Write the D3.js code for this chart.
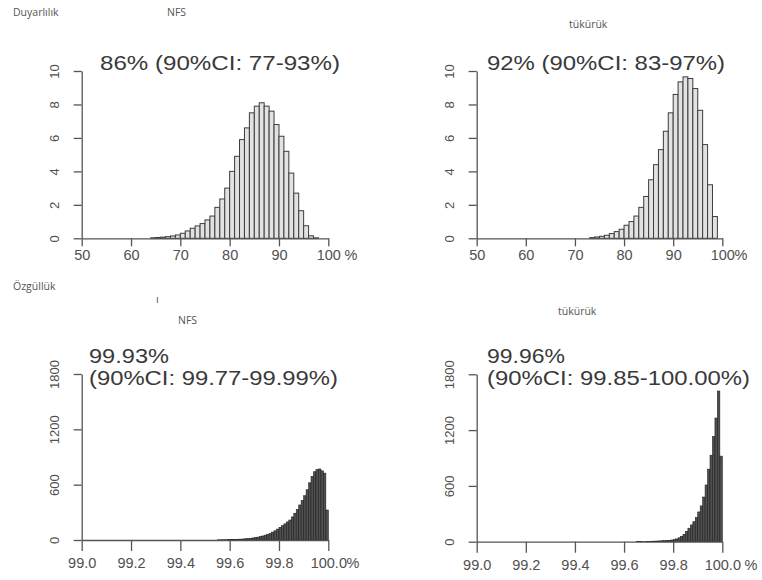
<!DOCTYPE html>
<html>
<head>
<meta charset="utf-8">
<script src="https://cdn.jsdelivr.net/npm/d3@7"></script>
<style>
  body { margin: 0; background: #fff; }
  svg { display: block; }
</style>
</head>
<body>
<svg id="chart" width="762" height="580"></svg>
<script>
// sensitivity histograms (density, bin width 1 percentage point)
var nfsSensEdges = [64, 65, 66, 67, 68, 69, 70, 71, 72, 73, 74, 75, 76, 77, 78, 79, 80, 81, 82, 83, 84, 85, 86, 87, 88, 89, 90, 91, 92, 93, 94, 95, 96, 97];
var nfsSensValues = [0.03, 0.05, 0.07, 0.1, 0.14, 0.2, 0.3, 0.44, 0.6, 0.74, 0.88, 1.1, 1.33, 1.85, 2.35, 3.0, 4.0, 4.9, 5.9, 6.6, 7.5, 7.9, 8.1, 7.9, 7.6, 6.8, 6.1, 5.2, 3.9, 2.7, 1.65, 0.75, 0.15, 0.03];
var salSensEdges = [73, 74, 75, 76, 77, 78, 79, 80, 81, 82, 83, 84, 85, 86, 87, 88, 89, 90, 91, 92, 93, 94, 95, 96, 97, 98];
var salSensValues = [0.04, 0.08, 0.12, 0.18, 0.28, 0.4, 0.54, 0.78, 1.0, 1.33, 1.85, 2.5, 3.5, 4.4, 5.3, 6.4, 7.5, 8.6, 9.35, 9.65, 9.55, 8.95, 7.65, 5.6, 3.2, 1.3];

// specificity histograms (counts, bin width 0.01 percentage point)
var nfsSpecEdges = [99.55, 99.56, 99.57, 99.58, 99.59, 99.60, 99.61, 99.62, 99.63, 99.64, 99.65, 99.66, 99.67, 99.68, 99.69, 99.70, 99.71, 99.72, 99.73, 99.74, 99.75, 99.76, 99.77, 99.78, 99.79, 99.80, 99.81, 99.82, 99.83, 99.84, 99.85, 99.86, 99.87, 99.88, 99.89, 99.90, 99.91, 99.92, 99.93, 99.94, 99.95, 99.96, 99.97, 99.98, 99.99];
var nfsSpecValues = [2, 2, 3, 3, 4, 5, 6, 7, 8, 9, 11, 13, 15, 18, 22, 26, 31, 37, 44, 52, 61, 72, 86, 100, 118, 137, 155, 175, 196, 217, 250, 290, 330, 380, 430, 480, 545, 620, 690, 740, 765, 770, 750, 725, 325];
var salSpecEdges = [99.65, 99.66, 99.67, 99.68, 99.69, 99.70, 99.71, 99.72, 99.73, 99.74, 99.75, 99.76, 99.77, 99.78, 99.79, 99.80, 99.81, 99.82, 99.83, 99.84, 99.85, 99.86, 99.87, 99.88, 99.89, 99.90, 99.91, 99.92, 99.93, 99.94, 99.95, 99.96, 99.97, 99.98, 99.99];
var salSpecValues = [1, 1, 2, 2, 3, 4, 5, 6, 7, 8, 10, 11, 13, 15, 18, 22, 30, 42, 58, 80, 110, 145, 180, 215, 260, 320, 385, 480, 610, 780, 930, 1130, 1330, 1620, 920];

var sensTicksX = [50, 60, 70, 80, 90, 100];
var sensTicksY = [0, 2, 4, 6, 8, 10];
var specTicksX = [99.0, 99.2, 99.4, 99.6, 99.8, 100.0];
var specTicksY = [0, 600, 1200, 1800];

var panelTitles = ['86% (90%CI: 77-93%)', '92% (90%CI: 83-97%)', '99.93%', '99.96%'];
var panelSubtitles = ['', '', '(90%CI: 99.77-99.99%)', '(90%CI: 99.85-100.00%)'];

var svg = d3.select('#chart');
var font = '"Liberation Sans", Arial, sans-serif';

var panels = [
	{ edges: nfsSensEdges, values: nfsSensValues, bw: 1, xd: [50, 100], yd: [0, 10], xr: [81.7, 328.3], yr: [238.3, 71],
	  xt: sensTicksX, yt: sensTicksY, fmt: d3.format('d'), suffix: ' %', light: true,
	  title: panelTitles[0], tx: 100, ty: 70, tw: 240 },
	{ edges: salSensEdges, values: salSensValues, bw: 1, xd: [50, 100], yd: [0, 10], xr: [476.7, 722.3], yr: [238.3, 71],
	  xt: sensTicksX, yt: sensTicksY, fmt: d3.format('d'), suffix: '%', light: true,
	  title: panelTitles[1], tx: 487, ty: 70, tw: 238 },
	{ edges: nfsSpecEdges, values: nfsSpecValues, bw: 0.01, xd: [99, 100], yd: [0, 1800], xr: [81.7, 328.3], yr: [540, 374],
	  xt: specTicksX, yt: specTicksY, fmt: d3.format('.1f'), suffix: '%', light: false,
	  title: panelTitles[2], sub: panelSubtitles[2], tx: 89, ty: 363, tw: 80, sw: 249 },
	{ edges: salSpecEdges, values: salSpecValues, bw: 0.01, xd: [99, 100], yd: [0, 1800], xr: [476.7, 722.3], yr: [541.7, 374.3],
	  xt: specTicksX, yt: specTicksY, fmt: d3.format('.1f'), suffix: ' %', light: false,
	  title: panelTitles[3], sub: panelSubtitles[3], tx: 487, ty: 363, tw: 78, sw: 263 }
];

panels.forEach(function(p) {
	var x = d3.scaleLinear().domain(p.xd).range(p.xr);
	var y = d3.scaleLinear().domain(p.yd).range(p.yr);
	var g = svg.append('g');

	// bars
	g.selectAll('rect.bar')
		.data(p.values)
		.enter().append('rect')
		.attr('class', 'bar')
		.attr('x', function(d, i) { return x(p.edges[i]); })
		.attr('width', function(d, i) { return x(p.edges[i] + p.bw) - x(p.edges[i]); })
		.attr('y', function(d) { return y(d); })
		.attr('height', function(d) { return y(0) - y(d); })
		.style('fill', p.light ? '#e2e2e2' : '#505050')
		.style('stroke', p.light ? '#3c3c3c' : '#1e1e1e')
		.style('stroke-width', p.light ? 1 : 0.6);

	// x axis sits on the zero line
	var xAxis = g.append('g')
		.attr('transform', 'translate(0,' + y(0) + ')')
		.call(d3.axisBottom(x).tickValues(p.xt).tickFormat(p.fmt)
			.tickSize(p.light ? 8 : 11).tickSizeOuter(0).tickPadding(p.light ? 3 : 7));
	xAxis.select('.domain').style('stroke', '#555').style('stroke-width', 1.3);
	xAxis.selectAll('.tick line').style('stroke', '#555').style('stroke-width', 1.3);
	xAxis.selectAll('.tick text')
		.style('font-family', font)
		.style('font-size', '14.5px')
		.style('fill', '#505050');
	// percent sign after the last label
	var lastText = xAxis.selectAll('.tick text').filter(function(d) { return d === p.xt[p.xt.length - 1]; });
	var lastW = lastText.node().getComputedTextLength();
	xAxis.append('text')
		.attr('x', x(p.xt[p.xt.length - 1]) + lastW / 2)
		.attr('y', lastText.attr('y'))
		.attr('dy', '0.71em')
		.attr('text-anchor', 'start')
		.style('font-family', font)
		.style('font-size', '14.5px')
		.style('fill', '#505050')
		.style('white-space', 'pre')
		.text(p.suffix);

	// y axis
	var yAxis = g.append('g')
		.attr('transform', 'translate(' + x(p.xd[0]) + ',0)')
		.call(d3.axisLeft(y).tickValues(p.yt).tickFormat(d3.format('d')).tickSize(8).tickSizeOuter(0));
	yAxis.select('.domain').style('stroke', '#555').style('stroke-width', 1.3);
	yAxis.selectAll('.tick line').style('stroke', '#555').style('stroke-width', 1.3);
	yAxis.selectAll('.tick text')
		.attr('transform', 'rotate(-90)')
		.attr('x', 0)
		.attr('y', -27)
		.attr('dy', '0.35em')
		.attr('text-anchor', 'middle')
		.style('font-family', font)
		.style('font-size', '13px')
		.style('fill', '#505050');

	// estimate text
	g.append('text')
		.attr('x', p.tx)
		.attr('y', p.ty)
		.attr('textLength', p.tw)
		.attr('lengthAdjust', 'spacingAndGlyphs')
		.style('font-family', font)
		.style('font-size', '20px')
		.style('fill', '#3a3a3a')
		.text(p.title);
	if (p.sub) {
		g.append('text')
			.attr('x', p.tx)
			.attr('y', p.ty + 22)
			.attr('textLength', p.sw)
			.attr('lengthAdjust', 'spacingAndGlyphs')
			.style('font-family', font)
			.style('font-size', '20px')
			.style('fill', '#3a3a3a')
			.text(p.sub);
	}
});

// small captions
var captions = [
	{ t: 'Duyarlılık', x: 13, y: 16 },
	{ t: 'NFS', x: 167, y: 16 },
	{ t: 'tükürük', x: 569, y: 28 },
	{ t: 'Özgüllük', x: 13, y: 290 },
	{ t: 'ı', x: 156, y: 303 },
	{ t: 'NFS', x: 178, y: 324 },
	{ t: 'tükürük', x: 558, y: 315 }
];
svg.selectAll('text.cap')
	.data(captions)
	.enter().append('text')
	.attr('class', 'cap')
	.attr('x', function(d) { return d.x; })
	.attr('y', function(d) { return d.y; })
	.style('font-family', '"Open Sans", sans-serif')
	.style('font-size', '10.5px')
	.style('fill', '#555')
	.text(function(d) { return d.t; });
</script>
</body>
</html>
